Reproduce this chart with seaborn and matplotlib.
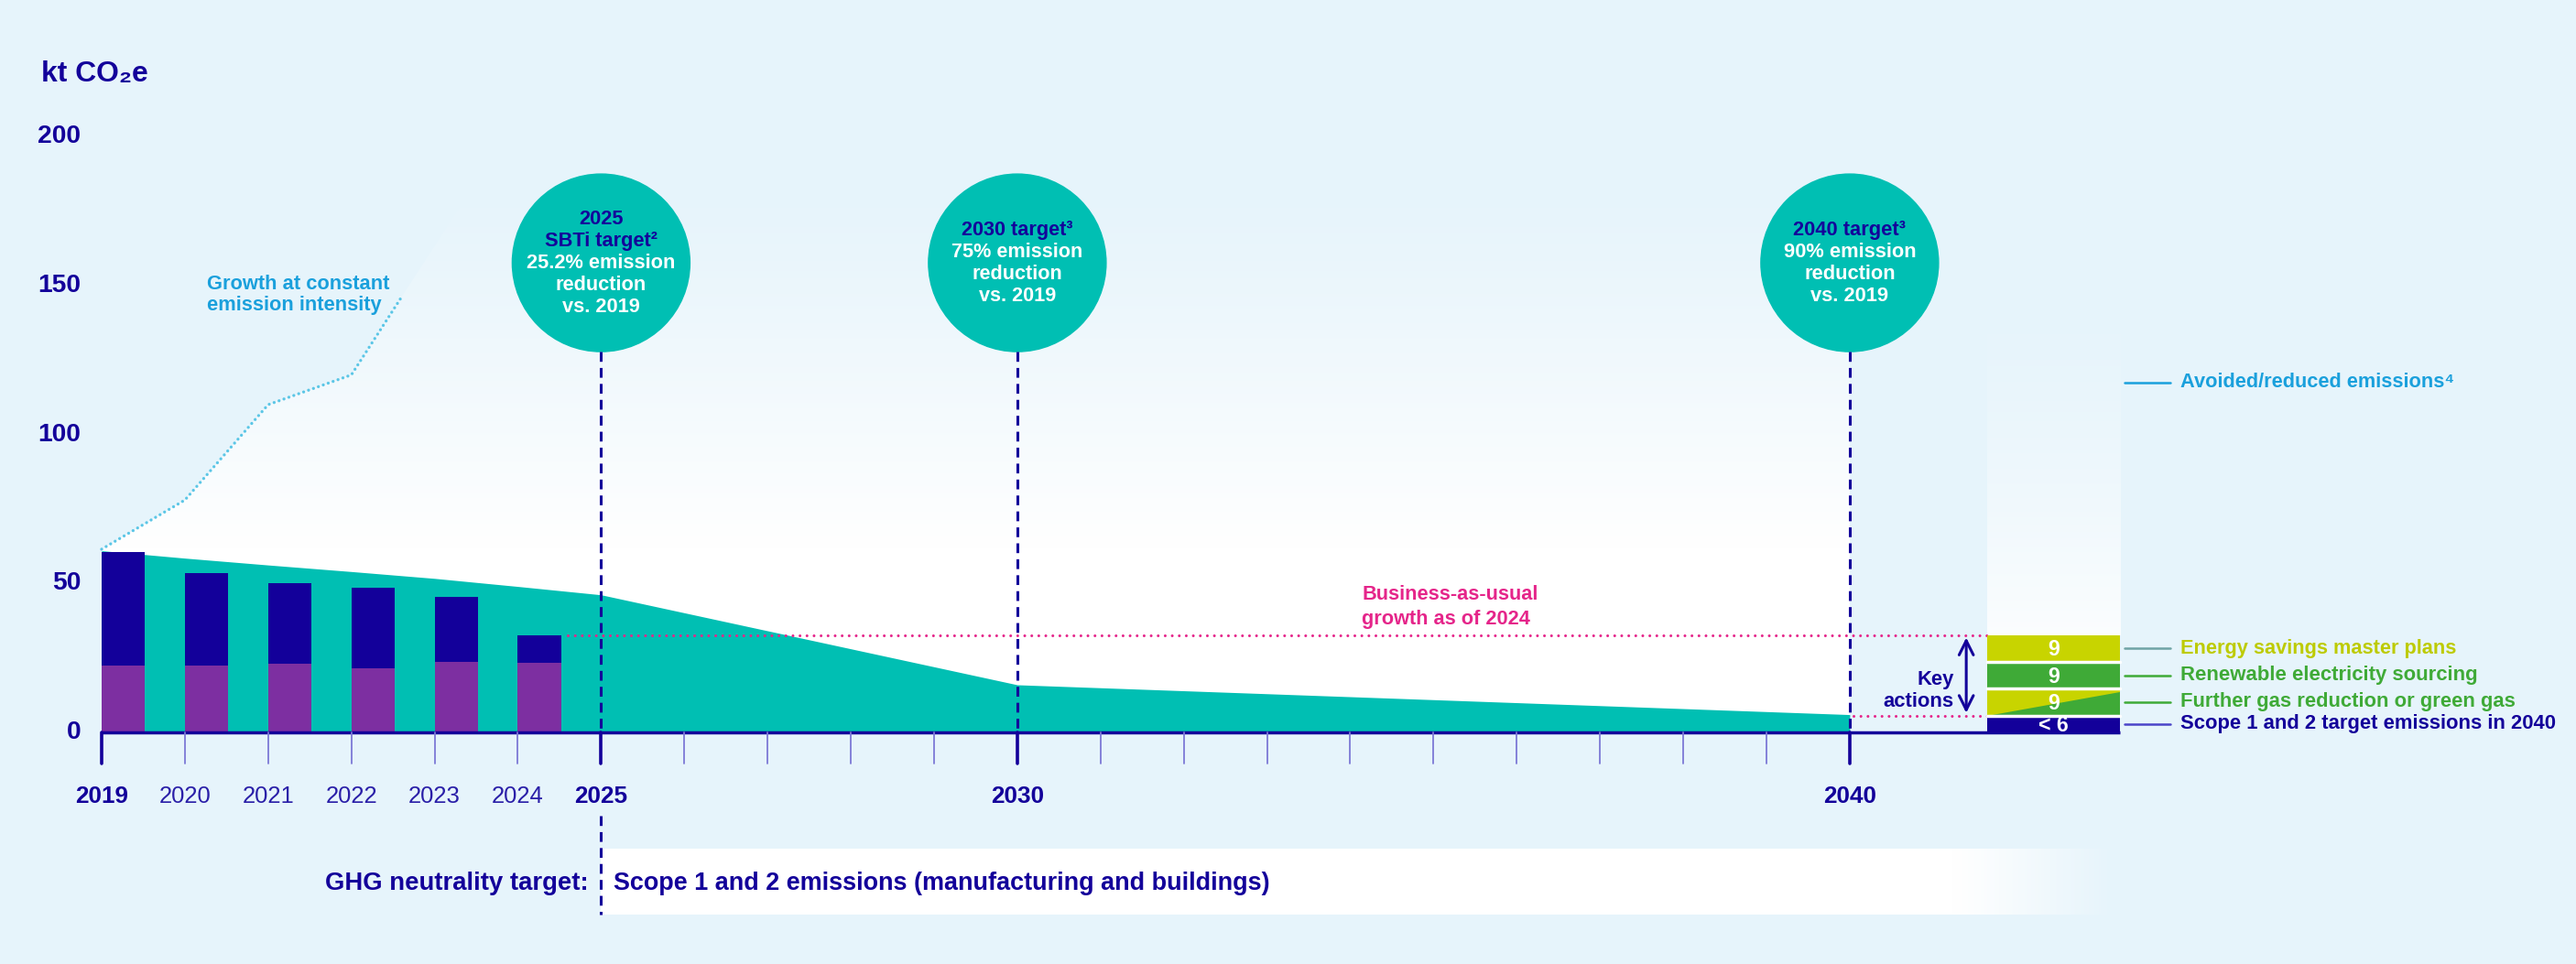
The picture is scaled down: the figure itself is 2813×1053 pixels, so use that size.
import numpy as np
import pandas as pd
import matplotlib.pyplot as plt
import seaborn as sns
from matplotlib.patches import Ellipse, Polygon

# ---- data ----
bar_years = [2019, 2020, 2021, 2022, 2023, 2024]
bar_total = [60.5, 53.5, 50.0, 48.7, 45.6, 32.7]
bar_lower = [22.3, 22.5, 23.2, 21.5, 23.8, 23.4]

path_years = [2019, 2020, 2021, 2022, 2023, 2024, 2025, 2030, 2040]
path_values = [61.0, 58.5, 56.2, 54.0, 51.7, 49.0, 46.2, 16.0, 6.0]

growth_years = [2019, 2020, 2021, 2022, 2022.6]
growth_values = [61.5, 78.0, 110.0, 120.0, 146.0]

bau_level = 32.7
action_values = [5.7, 9, 9, 9]  # bottom to top
action_text = ["< 6", "9", "9", "9"]
action_labels = ["Scope 1 and 2 target emissions in 2040",
                 "Further gas reduction or green gas",
                 "Renewable electricity sourcing",
                 "Energy savings master plans"]

y_ticks = [0, 50, 100, 150, 200]
label_years = [2019, 2020, 2021, 2022, 2023, 2024, 2025, 2030, 2040]
major_years = [2019, 2025, 2030, 2040]

target_years = [2025, 2030, 2040]
target_lines = [
    ["2025", "SBTi target²", "25.2% emission", "reduction", "vs. 2019"],
    ["2030 target³", "75% emission", "reduction", "vs. 2019"],
    ["2040 target³", "90% emission", "reduction", "vs. 2019"],
]
target_head = [2, 1, 1]  # number of dark-blue header lines

# ---- colours ----
BG = "#E6F4FB"
DARK = "#13009A"
PURPLE = "#7D2FA1"
TEAL = "#00BFB3"
LIME = "#C8D400"
GREEN = "#3FAA37"
PINK = "#E5258A"
SKY = "#1AA0DC"
MINOR = "#7C78D6"

sns.set_style("white")
FAMILY = ["Liberation Sans", "DejaVu Sans"]
plt.rcParams["font.family"] = FAMILY

fig = plt.figure(figsize=(28.13, 10.53), dpi=100, facecolor=BG)
ax = fig.add_axes([0, 0, 1, 1])
XL = (2017.779, 2048.725)
YL = (-77.7, 245.8)

fits = []  # (texts, reference width in px)


def txt(x, y, s, size=16, color=DARK, weight="bold", ha="left", va="center", **kw):
    return ax.text(x, y, s, fontsize=size, color=color, fontweight=weight, ha=ha, va=va,
                   family=FAMILY, **kw)


# white glow behind the pathway, fading upwards
ny = 300
yy = np.linspace(0, 245, ny)
alpha = np.clip((185 - yy) / (185 - 62), 0, 1) ** 1.2
rgba = np.ones((ny, 2, 4))
rgba[..., 3] = alpha[:, None]
im = ax.imshow(rgba, extent=[2019, 2040, 0, 245], origin="lower", aspect="auto",
               interpolation="bilinear", zorder=1)
verts = [(2019, 0)] + list(zip(growth_years, growth_values)) + [(2024.9, 245), (2040, 245), (2040, 0)]
clip = Polygon(verts, closed=True, facecolor="none", edgecolor="none")
ax.add_patch(clip)
im.set_clip_path(clip)

# faint panel above the right-hand bar
rgba2 = np.ones((ny, 2, 4))
yy2 = np.linspace(bau_level, 150, ny)
rgba2[..., 3] = (np.clip((150 - yy2) / (150 - bau_level), 0, 1) ** 1.5 * 0.85)[:, None]
ax.imshow(rgba2, extent=[2041.65, 2043.25, bau_level, 150], origin="lower", aspect="auto",
          interpolation="bilinear", zorder=1)

# bottom band
nx = 300
xx = np.linspace(2025, 2043.2, nx)
rgba3 = np.ones((2, nx, 4))
rgba3[..., 3] = np.clip((2043.2 - xx) / (2043.2 - 2041.3), 0, 1)[None, :]
ax.imshow(rgba3, extent=[2025, 2043.2, -61.2, -39.1], origin="lower", aspect="auto",
          interpolation="bilinear", zorder=1)

# teal pathway area
ax.fill_between(path_years, 0, path_values, color=TEAL, lw=0, zorder=2)

# growth at constant emission intensity
sns.lineplot(x=growth_years, y=growth_values, ax=ax, color="#5BC6E6", lw=2.4,
             linestyle=(0, (0.01, 1.7)), dash_capstyle="round", zorder=2)

# historical bars
bx = np.array(bar_years) + 0.26
sns.barplot(x=bx, y=bar_total, native_scale=True, width=0.52, color=DARK, linewidth=0,
            saturation=1, errorbar=None, ax=ax, zorder=3)
sns.barplot(x=bx, y=bar_lower, native_scale=True, width=0.52, color=PURPLE, linewidth=0,
            saturation=1, errorbar=None, ax=ax, zorder=3)

# business-as-usual dotted lines
ax.plot([2024.6, 2041.65], [bau_level, bau_level], color=PINK, lw=2.2,
        linestyle=(0, (0.01, 2.5)), dash_capstyle="round", zorder=4)
ax.plot([2040.05, 2041.65], [action_values[0], action_values[0]], color=PINK, lw=2.2,
        linestyle=(0, (0.01, 2.5)), dash_capstyle="round", zorder=4)
t1 = txt(2034.14, 46.4, "Business-as-usual", color=PINK)
t2 = txt(2034.14, 38.0, "growth as of 2024", color=PINK)
fits.append(([t1, t2], 192))

# x axis, ticks, labels
ax.plot([2019, 2043.25], [0, 0], color=DARK, lw=2.5, zorder=5, solid_capstyle="butt")
for yr in range(2019, 2041):
    if yr in major_years:
        ax.plot([yr, yr], [0, -10.5], color=DARK, lw=2.6, zorder=5)
    else:
        ax.plot([yr, yr], [0, -10.5], color=MINOR, lw=1.3, zorder=5)
bold_lbl, reg_lbl = [], []
for yr in label_years:
    if yr in major_years:
        bold_lbl.append(txt(yr, -21.5, str(yr), ha="center"))
    else:
        reg_lbl.append(txt(yr, -21.5, str(yr), color="#2A1FA8", weight="normal", ha="center"))
fits.append((bold_lbl, 58))
fits.append((reg_lbl, 57))

# y tick labels and unit
ylab = [txt(2018.75, v, str(v), ha="right") for v in y_ticks]
fits.append((ylab, 47))
fits.append(([txt(2018.27, 221, "kt CO₂e")], 117))

g1 = txt(2020.27, 150.4, "Growth at constant", color=SKY)
g2 = txt(2020.27, 143.3, "emission intensity", color=SKY)
fits.append(([g1, g2], 199))

# target bubbles with dashed drop lines
cy = 157.6
for yr, lines, nh, wref in zip(target_years, target_lines, target_head, [162, 143, 145]):
    ax.add_patch(Ellipse((yr, cy), 2 * 97 / 90.9, 2 * 97 / 3.255, color=TEAL, zorder=4))
    ax.plot([yr, yr], [cy - 29.8, 0], color=DARK, lw=2.2, linestyle=(0, (3.5, 2.2)), zorder=4)
    if yr == 2025:
        ax.plot([yr, yr], [-28, -61.2], color=DARK, lw=2.2, linestyle=(0, (3.5, 2.2)), zorder=4)
    n = len(lines)
    grp = []
    for i, s in enumerate(lines):
        yv = cy + 7.37 * ((n - 1) / 2 - i)
        grp.append(txt(yr, yv, s, color=DARK if i < nh else "white", ha="center", zorder=5))
    fits.append((grp, wref))

# right-hand stacked bar of key actions
rx0, rx1 = 2041.65, 2043.25
rc = (rx0 + rx1) / 2
bottoms = np.cumsum([0] + action_values[:-1])
seg_colors = [DARK, LIME, GREEN, LIME]
ax.bar([rc] * 4, action_values, bottom=bottoms, width=rx1 - rx0, color=seg_colors,
       linewidth=0, zorder=4)
b, h = bottoms[1], action_values[1]
ax.add_patch(Polygon([(rx0, b), (rx1, b), (rx1, b + h * 0.88)], closed=True,
                     color=GREEN, lw=0, zorder=4))
for yv in bottoms[1:]:
    ax.plot([rx0, rx1], [yv, yv], color="white", lw=2.5, zorder=5)
label_colors = [DARK, GREEN, GREEN, "#BDCB00"]
line_colors = ["#4B45C8", GREEN, GREEN, "#6FA3A5"]
label_widths = [409, 366, 324, 301]
vals = []
for bt, hv, t, lab, lc, cc, wref in zip(bottoms, action_values, action_text, action_labels,
                                        label_colors, line_colors, label_widths):
    ym = bt + hv / 2
    vals.append(txt(rc, ym - 0.5, t, color="white", ha="center", zorder=6))
    ax.plot([rx1 + 0.05, 2043.85], [ym, ym], color=cc, lw=1.8, zorder=5)
    fits.append(([txt(2043.97, ym, lab, color=lc)], wref))
fits.append((vals, 33))

ax.plot([2043.3, 2043.85], [117.4, 117.4], color=SKY, lw=1.8, zorder=5)
fits.append(([txt(2043.97, 117.4, "Avoided/reduced emissions⁴", color=SKY)], 300))

# key actions arrow
ax.annotate("", xy=(2041.4, action_values[0]), xytext=(2041.4, bau_level),
            arrowprops=dict(arrowstyle="<->", color=DARK, lw=2.2, mutation_scale=28), zorder=6)
k1 = txt(2041.25, 17.8, "Key", ha="right")
k2 = txt(2041.25, 10.4, "actions", ha="right")
fits.append(([k1, k2], 77))

# bottom caption
fits.append(([txt(2024.85, -50.7, "GHG neutrality target:", ha="right")], 287))
fits.append(([txt(2025.15, -50.7, "Scope 1 and 2 emissions (manufacturing and buildings)")], 716))

ax.set_xlim(*XL)
ax.set_ylim(*YL)
ax.axis("off")

# scale each text group so its width matches the reference
renderer = fig.canvas.get_renderer()
for _ in range(2):
    for texts, wref in fits:
        w = max(t.get_window_extent(renderer).width for t in texts)
        k = wref / w
        for t in texts:
            t.set_fontsize(t.get_fontsize() * k)

fig.savefig("out.png", dpi=100, facecolor=BG)
